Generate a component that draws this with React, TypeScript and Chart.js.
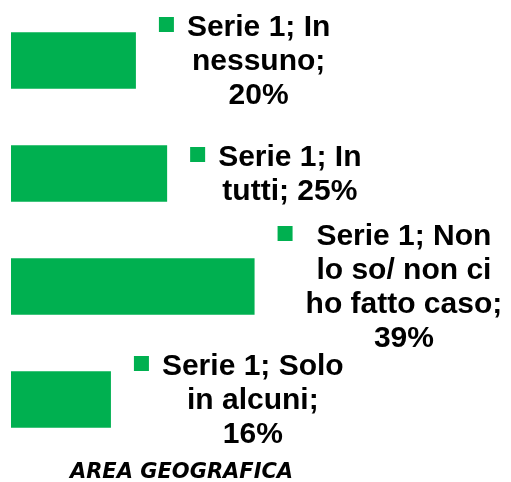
import React, { useEffect, useRef } from "react";
import { Chart, registerables } from "chart.js";

Chart.register(...registerables);

const categories = ["In nessuno", "In tutti", "Non lo so/ non ci ho fatto caso", "Solo in alcuni"];
const seriesName = "Serie 1";
const values = [20, 25, 39, 16];
const labelLines = [
  ["Serie 1; In", "nessuno;", "20%"],
  ["Serie 1; In", "tutti; 25%"],
  ["Serie 1; Non", "lo so/ non ci", "ho fatto caso;", "39%"],
  ["Serie 1; Solo", "in alcuni;", "16%"],
];
const axisTitle = "AREA GEOGRAFICA";

const GREEN = "#00B050";

const labelPlugin = {
  id: "excelLabels",
  afterDatasetsDraw(chart: any) {
    const ctx = chart.ctx;
    const meta = chart.getDatasetMeta(0);
    const LH = 34;
    const SQ = 15;
    const GAP = 13;
    ctx.save();
    ctx.font = "bold 30px 'Liberation Sans', Arial, sans-serif";
    ctx.fillStyle = "#000";
    ctx.textAlign = "center";
    ctx.textBaseline = "middle";
    meta.data.forEach((bar: any, i: number) => {
      const lines = labelLines[i];
      const w = Math.max(...lines.map((l: string) => ctx.measureText(l).width));
      const left = bar.x + 23;
      const cx = left + SQ + GAP + w / 2;
      const n = lines.length;
      lines.forEach((l: string, j: number) => {
        const y = bar.y + 1 + (j - (n - 1) / 2) * LH;
        ctx.fillText(l, cx, y);
      });
      const y0 = bar.y - ((n - 1) / 2) * LH;
      ctx.fillStyle = GREEN;
      ctx.fillRect(left, y0 - 2 - SQ / 2, SQ, SQ);
      ctx.fillStyle = "#000";
    });
    // axis title
    const ca = chart.chartArea;
    ctx.font = "italic bold 21px 'DejaVu Sans', sans-serif";
    ctx.textBaseline = "alphabetic";
    ctx.fillText(axisTitle, (ca.left + ca.right) / 2, 478);
    ctx.restore();
  },
};

export default function App() {
  const ref = useRef<HTMLCanvasElement | null>(null);
  useEffect(() => {
    if (!ref.current) return;
    const chart = new Chart(ref.current, {
      type: "bar",
      data: {
        labels: categories,
        datasets: [
          {
            label: seriesName,
            data: values,
            backgroundColor: GREEN,
            borderWidth: 0,
            categoryPercentage: 1,
            barPercentage: 0.5,
          },
        ],
      },
      options: {
        indexAxis: "y",
        responsive: false,
        animation: false,
        layout: { padding: { left: 11, right: 159, top: 4, bottom: 26 } },
        plugins: { legend: { display: false }, tooltip: { enabled: false }, title: { display: false } },
        scales: {
          x: { display: false, min: 0, max: 54.6 },
          y: { display: false },
        },
      },
      plugins: [labelPlugin],
    });
    return () => chart.destroy();
  }, []);
  return (
    <div style={{ position: "fixed", left: 0, top: 0, width: 511, height: 482, background: "#fff" }}>
      <canvas ref={ref} width={511} height={482} />
    </div>
  );
}
